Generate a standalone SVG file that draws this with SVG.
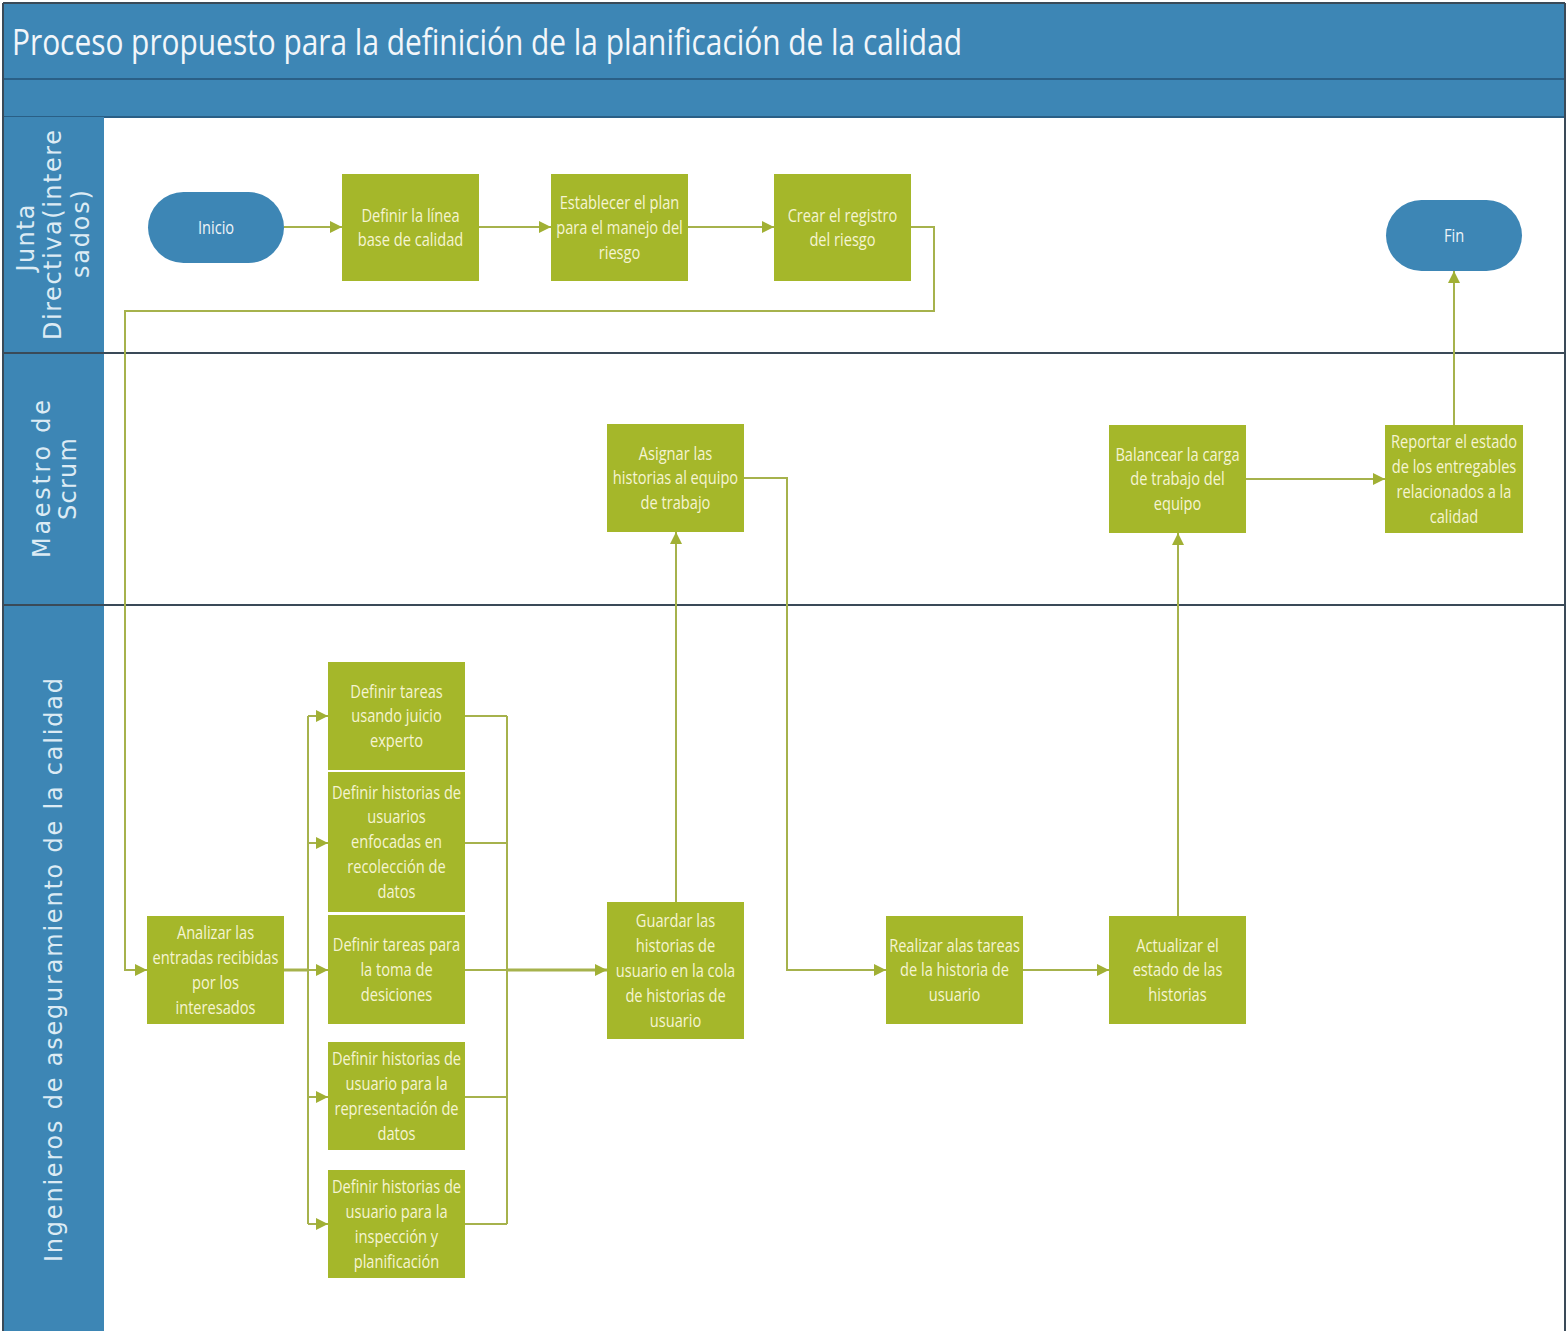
<svg xmlns="http://www.w3.org/2000/svg" width="1567" height="1331" viewBox="0 0 1567 1331">
  <style>
    .band { fill: #3d86b5; }
    .rule { stroke: #3a4a58; stroke-width: 2; fill: none; }
    .hdrline { stroke: #2a5f86; stroke-width: 2; }
    .title { font-family: "Open Sans", "Noto Sans", sans-serif; font-size: 37px; fill: #f2f6fa; }
    .lane { font-family: "DejaVu Sans", "Open Sans", sans-serif; font-size: 24px; fill: #dcebf4; text-anchor: middle; }
    .box { fill: #a5b72a; }
    .pill { fill: #3d86b5; }
    .t { font-family: "Open Sans", "Noto Sans", sans-serif; font-size: 19px; fill: #f5f4d2; text-anchor: middle; }
    .tp { font-family: "Open Sans", "Noto Sans", sans-serif; font-size: 19px; fill: #eef4f8; text-anchor: middle; }
    .conn { stroke: #a6b24c; stroke-width: 2; fill: none; }
    .conn.main { stroke-width: 3; }
  </style>
  <defs>
    <marker id="arrow" viewBox="0 0 10 10" refX="10" refY="5" markerWidth="12" markerHeight="13" markerUnits="userSpaceOnUse" orient="auto">
      <path d="M0,0 L10,5 L0,10 z" fill="#a1b034"/>
    </marker>
  </defs>

  <!-- page background -->
  <rect x="0" y="0" width="1567" height="1331" fill="#ffffff"/>

  <!-- pool header and lane headers -->
  <g id="pool">
    <rect class="band" x="3" y="3" width="1562" height="114"/>
    <line class="hdrline" x1="3" y1="79" x2="1565" y2="79"/>
    <line class="hdrline" x1="3" y1="117" x2="1565" y2="117"/>
    <rect class="band" x="3" y="117" width="101" height="1214"/>
    <text class="title" x="12" y="55" textLength="950" lengthAdjust="spacingAndGlyphs">Proceso propuesto para la definición de la planificación de la calidad</text>
    <line class="rule" x1="3" y1="353" x2="1565" y2="353"/>
    <line class="rule" x1="3" y1="605" x2="1565" y2="605"/>
    <line class="rule" x1="3" y1="3" x2="1565" y2="3"/>
    <line class="rule" x1="3" y1="3" x2="3" y2="1331"/>
    <line class="rule" x1="1565" y1="3" x2="1565" y2="1331"/>
  </g>

  <g id="lane-junta">
    <text class="lane" transform="translate(34,238) rotate(-90)" textLength="67">Junta</text>
    <text class="lane" transform="translate(61,235) rotate(-90)" textLength="210">Directiva(intere</text>
    <text class="lane" transform="translate(89,234) rotate(-90)" textLength="88">sados)</text>
  </g>
  <g id="lane-scrum">
    <text class="lane" transform="translate(50,479) rotate(-90)" textLength="158">Maestro de</text>
    <text class="lane" transform="translate(76,479) rotate(-90)" textLength="82">Scrum</text>
  </g>
  <g id="lane-ingenieros">
    <text class="lane" transform="translate(62,970) rotate(-90)" textLength="584">Ingenieros de aseguramiento de la calidad</text>
  </g>

  <!-- connectors -->
  <g id="connectors">
    <path class="conn" d="M284,227 H342" marker-end="url(#arrow)"/>
    <path class="conn" d="M479,227 H551" marker-end="url(#arrow)"/>
    <path class="conn" d="M688,227 H774" marker-end="url(#arrow)"/>
    <path class="conn" d="M911,227 H934 V311 H125 V970 H147" marker-end="url(#arrow)"/>
    <path class="conn main" d="M284,970 H308"/>
    <path class="conn" d="M308,716 V1224"/>
    <path class="conn" d="M308,716 H328" marker-end="url(#arrow)"/>
    <path class="conn" d="M308,843 H328" marker-end="url(#arrow)"/>
    <path class="conn" d="M308,970 H328" marker-end="url(#arrow)"/>
    <path class="conn" d="M308,1097 H328" marker-end="url(#arrow)"/>
    <path class="conn" d="M308,1224 H328" marker-end="url(#arrow)"/>
    <path class="conn" d="M465,716 H507"/>
    <path class="conn" d="M465,843 H507"/>
    <path class="conn" d="M465,1097 H507"/>
    <path class="conn" d="M465,1224 H507"/>
    <path class="conn" d="M507,716 V1224"/>
    <path class="conn" d="M465,970 H507"/>
    <path class="conn main" d="M507,970 H607" marker-end="url(#arrow)"/>
    <path class="conn" d="M676,902 V532" marker-end="url(#arrow)"/>
    <path class="conn" d="M744,478 H787 V970 H886" marker-end="url(#arrow)"/>
    <path class="conn" d="M1023,970 H1109" marker-end="url(#arrow)"/>
    <path class="conn" d="M1178,916 V533" marker-end="url(#arrow)"/>
    <path class="conn" d="M1246,479 H1385" marker-end="url(#arrow)"/>
    <path class="conn" d="M1454,425 V271" marker-end="url(#arrow)"/>
  </g>

  <!-- nodes -->
  <g id="inicio">
    <rect class="pill" x="148" y="192" width="136" height="71" rx="35.5"/>
    <text class="tp" transform="translate(216,233.5) scale(0.77,1)">Inicio</text>
  </g>
  <g id="definir-linea-base">
    <rect class="box" x="342" y="174" width="137" height="107"/>
    <text class="t" transform="translate(410.5,221.5) scale(0.77,1)"><tspan x="0" y="0">Definir la línea</tspan><tspan x="0" y="25">base de calidad</tspan></text>
  </g>
  <g id="establecer-plan">
    <rect class="box" x="551" y="174" width="137" height="107"/>
    <text class="t" transform="translate(619.5,209) scale(0.77,1)"><tspan x="0" y="0">Establecer el plan</tspan><tspan x="0" y="25">para el manejo del</tspan><tspan x="0" y="50">riesgo</tspan></text>
  </g>
  <g id="crear-registro">
    <rect class="box" x="774" y="174" width="137" height="107"/>
    <text class="t" transform="translate(842.5,221.5) scale(0.77,1)"><tspan x="0" y="0">Crear el registro</tspan><tspan x="0" y="25">del riesgo</tspan></text>
  </g>
  <g id="fin">
    <rect class="pill" x="1386" y="200" width="136" height="71" rx="35.5"/>
    <text class="tp" transform="translate(1454,242) scale(0.77,1)">Fin</text>
  </g>
  <g id="asignar-historias">
    <rect class="box" x="607" y="424" width="137" height="108"/>
    <text class="t" transform="translate(675.5,459.5) scale(0.77,1)"><tspan x="0" y="0">Asignar las</tspan><tspan x="0" y="25">historias al equipo</tspan><tspan x="0" y="50">de trabajo</tspan></text>
  </g>
  <g id="balancear-carga">
    <rect class="box" x="1109" y="425" width="137" height="108"/>
    <text class="t" transform="translate(1177.5,460.5) scale(0.77,1)"><tspan x="0" y="0">Balancear la carga</tspan><tspan x="0" y="25">de trabajo del</tspan><tspan x="0" y="50">equipo</tspan></text>
  </g>
  <g id="reportar-estado">
    <rect class="box" x="1385" y="425" width="138" height="108"/>
    <text class="t" transform="translate(1454,448) scale(0.77,1)"><tspan x="0" y="0">Reportar el estado</tspan><tspan x="0" y="25">de los entregables</tspan><tspan x="0" y="50">relacionados a la</tspan><tspan x="0" y="75">calidad</tspan></text>
  </g>
  <g id="analizar-entradas">
    <rect class="box" x="147" y="916" width="137" height="108"/>
    <text class="t" transform="translate(215.5,939) scale(0.77,1)"><tspan x="0" y="0">Analizar las</tspan><tspan x="0" y="25">entradas recibidas</tspan><tspan x="0" y="50">por los</tspan><tspan x="0" y="75">interesados</tspan></text>
  </g>
  <g id="tareas-juicio-experto">
    <rect class="box" x="328" y="662" width="137" height="108"/>
    <text class="t" transform="translate(396.5,697.5) scale(0.77,1)"><tspan x="0" y="0">Definir tareas</tspan><tspan x="0" y="25">usando juicio</tspan><tspan x="0" y="50">experto</tspan></text>
  </g>
  <g id="historias-recoleccion">
    <rect class="box" x="328" y="772" width="137" height="140"/>
    <text class="t" transform="translate(396.5,798.5) scale(0.77,1)"><tspan x="0" y="0">Definir historias de</tspan><tspan x="0" y="25">usuarios</tspan><tspan x="0" y="50">enfocadas en</tspan><tspan x="0" y="75">recolección de</tspan><tspan x="0" y="100">datos</tspan></text>
  </g>
  <g id="tareas-toma-desiciones">
    <rect class="box" x="328" y="915" width="137" height="109"/>
    <text class="t" transform="translate(396.5,951) scale(0.77,1)"><tspan x="0" y="0">Definir tareas para</tspan><tspan x="0" y="25">la toma de</tspan><tspan x="0" y="50">desiciones</tspan></text>
  </g>
  <g id="historias-representacion">
    <rect class="box" x="328" y="1042" width="137" height="108"/>
    <text class="t" transform="translate(396.5,1065) scale(0.77,1)"><tspan x="0" y="0">Definir historias de</tspan><tspan x="0" y="25">usuario para la</tspan><tspan x="0" y="50">representación de</tspan><tspan x="0" y="75">datos</tspan></text>
  </g>
  <g id="historias-inspeccion">
    <rect class="box" x="328" y="1170" width="137" height="108"/>
    <text class="t" transform="translate(396.5,1193) scale(0.77,1)"><tspan x="0" y="0">Definir historias de</tspan><tspan x="0" y="25">usuario para la</tspan><tspan x="0" y="50">inspección y</tspan><tspan x="0" y="75">planificación</tspan></text>
  </g>
  <g id="guardar-historias">
    <rect class="box" x="607" y="902" width="137" height="137"/>
    <text class="t" transform="translate(675.5,927) scale(0.77,1)"><tspan x="0" y="0">Guardar las</tspan><tspan x="0" y="25">historias de</tspan><tspan x="0" y="50">usuario en la cola</tspan><tspan x="0" y="75">de historias de</tspan><tspan x="0" y="100">usuario</tspan></text>
  </g>
  <g id="realizar-tareas">
    <rect class="box" x="886" y="916" width="137" height="108"/>
    <text class="t" transform="translate(954.5,951.5) scale(0.77,1)"><tspan x="0" y="0">Realizar alas tareas</tspan><tspan x="0" y="25">de la historia de</tspan><tspan x="0" y="50">usuario</tspan></text>
  </g>
  <g id="actualizar-estado">
    <rect class="box" x="1109" y="916" width="137" height="108"/>
    <text class="t" transform="translate(1177.5,951.5) scale(0.77,1)"><tspan x="0" y="0">Actualizar el</tspan><tspan x="0" y="25">estado de las</tspan><tspan x="0" y="50">historias</tspan></text>
  </g>
</svg>
